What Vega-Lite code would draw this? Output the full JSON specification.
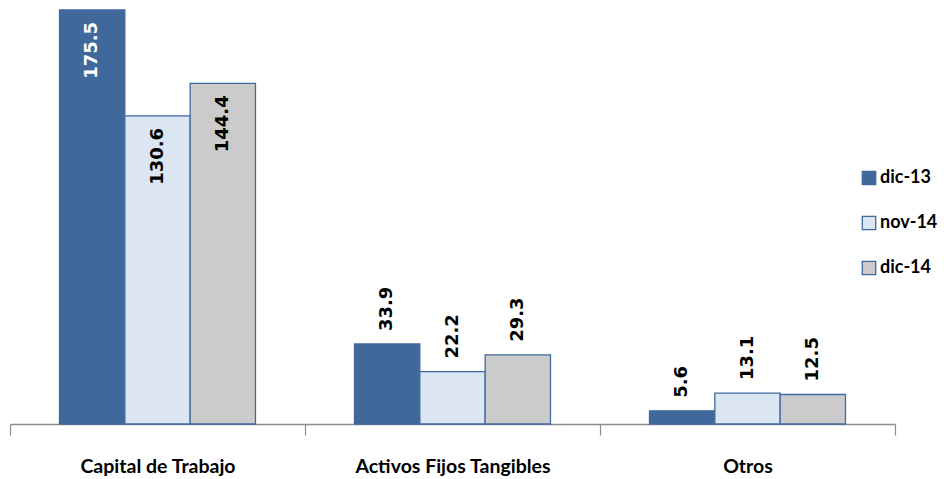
{
  "$schema": "https://vega.github.io/schema/vega-lite/v6.json",
  "width": 885,
  "height": 424,
  "autosize": "none",
  "padding": {"left": 10, "top": 0, "right": 49, "bottom": 55},
  "background": "white",
  "config": {"view": {"stroke": null}},
  "data": {
    "values": [
      {"cat": "Capital de Trabajo", "serie": "dic-13", "value": 175.5},
      {"cat": "Capital de Trabajo", "serie": "nov-14", "value": 130.6},
      {"cat": "Capital de Trabajo", "serie": "dic-14", "value": 144.4},
      {"cat": "Activos Fijos  Tangibles", "serie": "dic-13", "value": 33.9},
      {"cat": "Activos Fijos  Tangibles", "serie": "nov-14", "value": 22.2},
      {"cat": "Activos Fijos  Tangibles", "serie": "dic-14", "value": 29.3},
      {"cat": "Otros", "serie": "dic-13", "value": 5.6},
      {"cat": "Otros", "serie": "nov-14", "value": 13.1},
      {"cat": "Otros", "serie": "dic-14", "value": 12.5}
    ]
  },
  "encoding": {
    "x": {
      "field": "cat", "type": "nominal", "sort": null,
      "scale": {"paddingInner": 0, "paddingOuter": 0},
      "axis": {
        "title": null, "labelAngle": 0, "tickBand": "extent", "labelLimit": 0,
        "domainColor": "#8c8c8c", "domainWidth": 1.5,
        "tickColor": "#8c8c8c", "tickSize": 11, "tickWidth": 1.2,
        "labelFont": "Lato", "labelFontWeight": "bold", "labelFontSize": 19.5,
        "labelColor": "#000000", "labelPadding": 22
      }
    },
    "xOffset": {
      "field": "serie", "type": "nominal", "sort": ["dic-13", "nov-14", "dic-14"],
      "scale": {"paddingInner": 0, "paddingOuter": 0.758}
    },
    "y": {
      "field": "value", "type": "quantitative",
      "scale": {"domain": [0, 179.7], "nice": false},
      "axis": null
    }
  },
  "layer": [
    {
      "mark": {"type": "bar", "stroke": "#3f69a0", "strokeWidth": 1.3},
      "encoding": {
        "color": {
          "field": "serie", "type": "nominal", "sort": ["dic-13", "nov-14", "dic-14"],
          "scale": {"domain": ["dic-13", "nov-14", "dic-14"], "range": ["#41689a", "#dce6f2", "#cbcbcb"]},
          "legend": {
            "title": null, "orient": "none", "legendX": 850, "legendY": 169,
            "symbolType": "square", "symbolSize": 180, "symbolStrokeColor": "#3f69a0",
            "symbolStrokeWidth": 1.3, "rowPadding": 25,
            "labelFont": "Lato", "labelFontWeight": "bold", "labelFontSize": 18,
            "labelColor": "#000000", "labelOffset": 2
          }
        }
      }
    },
    {
      "transform": [{"filter": "datum.value > 100"}],
      "mark": {"type": "text", "angle": 270, "align": "right", "baseline": "middle", "dx": -12,
               "font": "DejaVu Sans", "fontWeight": "bold", "fontSize": 18},
      "encoding": {
        "text": {"field": "value", "type": "quantitative", "format": ".1f"},
        "color": {"condition": {"test": "datum.serie === 'dic-13'", "value": "#ffffff"}, "value": "#000000"}
      }
    },
    {
      "transform": [{"filter": "datum.value <= 100"}],
      "mark": {"type": "text", "angle": 270, "align": "left", "baseline": "middle", "dx": 13,
               "font": "DejaVu Sans", "fontWeight": "bold", "fontSize": 18, "color": "#000000"},
      "encoding": {
        "text": {"field": "value", "type": "quantitative", "format": ".1f"}
      }
    }
  ]
}
